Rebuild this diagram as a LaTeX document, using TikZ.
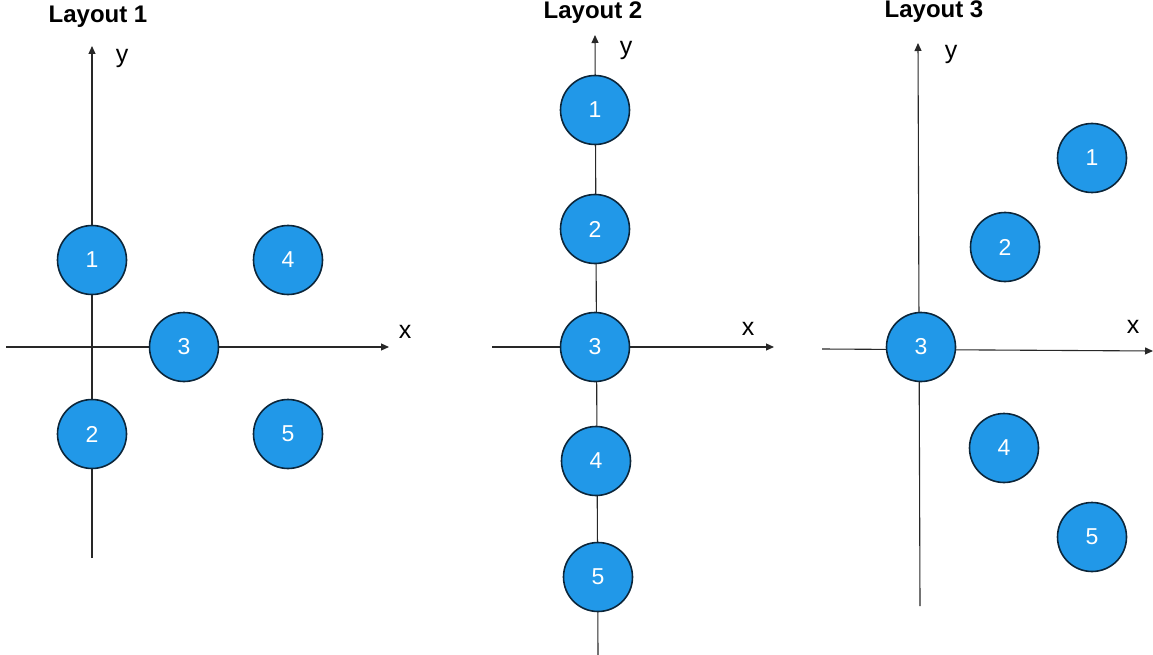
\documentclass[tikz,border=0pt]{standalone}
\usepackage{fontspec}
\setmainfont{Liberation Sans}
\usetikzlibrary{arrows.meta}
\definecolor{ballfill}{RGB}{33,152,232}
\definecolor{balledge}{RGB}{12,38,58}
\definecolor{axisgray}{RGB}{40,40,40}
\begin{document}
\begin{tikzpicture}[x=1pt,y=-1pt,
  ball/.style={circle,fill=ballfill,draw=balledge,line width=1.6pt,minimum size=69pt,inner sep=0pt,text=white,font=\fontsize{23}{27}\selectfont},
  axis/.style={draw=axisgray,line width=1.1pt},
  axisarrow/.style={axis,-{Triangle[length=8pt,width=7pt]}},
  lbl/.style={font=\fontsize{25}{29}\selectfont,inner sep=0pt},
  title/.style={font=\bfseries\fontsize{24}{28}\selectfont,inner sep=0pt}]
\useasboundingbox (0,0) rectangle (1153,655);
% Layout 1
\node[title] (t1) at (98,17) {Layout 1};
\coordinate (y1b) at (92,558);
\coordinate (y1t) at (92,46);
\coordinate (x1l) at (6,347);
\coordinate (x1r) at (389,347);
\draw[axisarrow] (y1b) -- (y1t);
\draw[axisarrow] (x1l) -- (x1r);
\node[lbl] (ly1) at (122,58) {y};
\node[lbl] (lx1) at (405,332) {x};
\node[ball] (a1) at (92,260) {1};
\node[ball] (a4) at (288,260) {4};
\node[ball] (a3) at (184,347) {3};
\node[ball] (a2) at (92,434) {2};
\node[ball] (a5) at (288,434) {5};
% Layout 2
\node[title] (t2) at (593,13) {Layout 2};
\coordinate (y2b) at (598,655);
\coordinate (y2t) at (595,35);
\coordinate (x2l) at (492,347);
\coordinate (x2r) at (774,347);
\draw[axisarrow] (y2b) -- (y2t);
\draw[axisarrow] (x2l) -- (x2r);
\node[lbl] (ly2) at (626,50) {y};
\node[lbl] (lx2) at (748,329) {x};
\node[ball] (b1) at (595,110) {1};
\node[ball] (b2) at (595,229) {2};
\node[ball] (b3) at (595,347) {3};
\node[ball] (b4) at (596,461) {4};
\node[ball] (b5) at (598,577) {5};
% Layout 3
\node[title] (t3) at (934,12) {Layout 3};
\coordinate (y3b) at (920,606);
\coordinate (y3t) at (918,43);
\coordinate (x3l) at (822,349);
\coordinate (x3r) at (1153,351);
\draw[axisarrow] (y3b) -- (y3t);
\draw[axisarrow] (x3l) -- (x3r);
\node[lbl] (ly3) at (951,54) {y};
\node[lbl] (lx3) at (1133,327) {x};
\node[ball] (c1) at (1092,158) {1};
\node[ball] (c2) at (1005,247) {2};
\node[ball] (c3) at (921,347) {3};
\node[ball] (c4) at (1004,448) {4};
\node[ball] (c5) at (1092,537) {5};
\end{tikzpicture}
\end{document}
